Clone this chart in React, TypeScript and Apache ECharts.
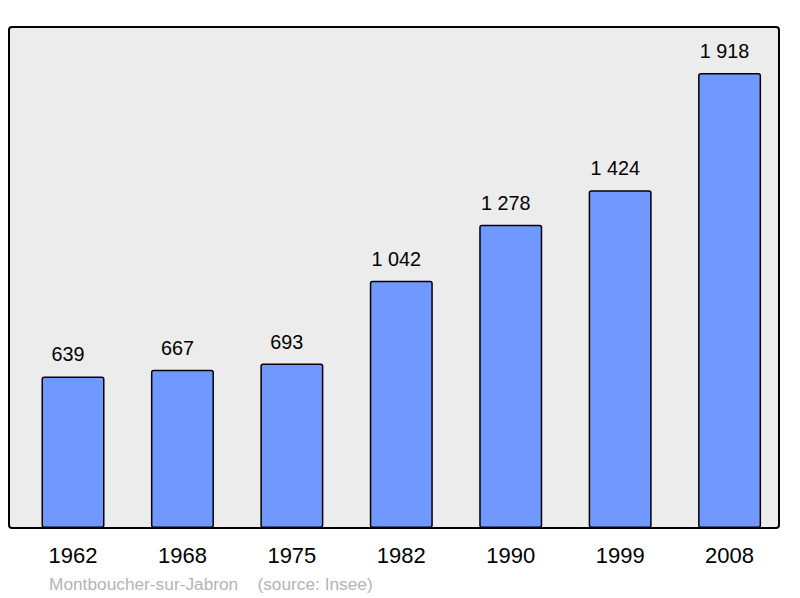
import React, { useEffect, useRef } from "react";
import * as echarts from "echarts";

const years = ["1962", "1968", "1975", "1982", "1990", "1999", "2008"];
const population = [639, 667, 693, 1042, 1278, 1424, 1918];
const caption = "Montboucher-sur-Jabron    (source: Insee)";

const fmt = (v: number) => String(v).replace(/\B(?=(\d{3})+(?!\d))/g, " ");

export default function App() {
  const ref = useRef<HTMLDivElement>(null);
  useEffect(() => {
    const chart = echarts.init(ref.current!, null, { renderer: "svg" });
    const plotBottom = 528;
    const pxPerUnit = 0.2372;
    const yMax = 2000;
    const gridHeight = yMax * pxPerUnit;
    const font = "Liberation Sans, Arial, sans-serif";
    chart.setOption({
      animation: false,
      backgroundColor: "#ffffff",
      textStyle: { fontFamily: font },
      graphic: [
        {
          type: "rect",
          z: -10,
          shape: { x: 9, y: 27, width: 770, height: 501, r: 3 },
          style: { fill: "#ececec", stroke: "#000000", lineWidth: 2 },
        },
        {
          type: "text",
          left: 49,
          top: 575,
          style: {
            text: caption,
            fill: "#b4b4b4",
            font: "17.3px " + font,
          },
        },
      ],
      grid: {
        left: 18.3,
        width: 766,
        top: plotBottom - gridHeight,
        height: gridHeight,
        containLabel: false,
      },
      xAxis: {
        type: "category",
        data: years,
        axisLine: { show: false },
        axisTick: { show: false },
        axisLabel: {
          color: "#000",
          fontSize: 22,
          margin: 16,
          fontFamily: font,
        },
      },
      yAxis: {
        type: "value",
        min: 0,
        max: yMax,
        show: false,
        splitLine: { show: false },
      },
      series: [
        {
          type: "bar",
          data: population,
          barWidth: 63,
          itemStyle: {
            color: "#7098ff",
            borderColor: "#000",
            borderWidth: 1.5,
            borderRadius: 2,
          },
          label: {
            show: true,
            position: "top",
            distance: 12,
            offset: [-5, 0],
            color: "#000",
            fontSize: 19.8,
            fontFamily: font,
            formatter: (p: any) => fmt(p.value),
          },
        },
      ],
    });
    return () => chart.dispose();
  }, []);
  return (
    <div
      ref={ref}
      style={{ position: "fixed", left: 0, top: 0, width: 800, height: 598 }}
    />
  );
}
